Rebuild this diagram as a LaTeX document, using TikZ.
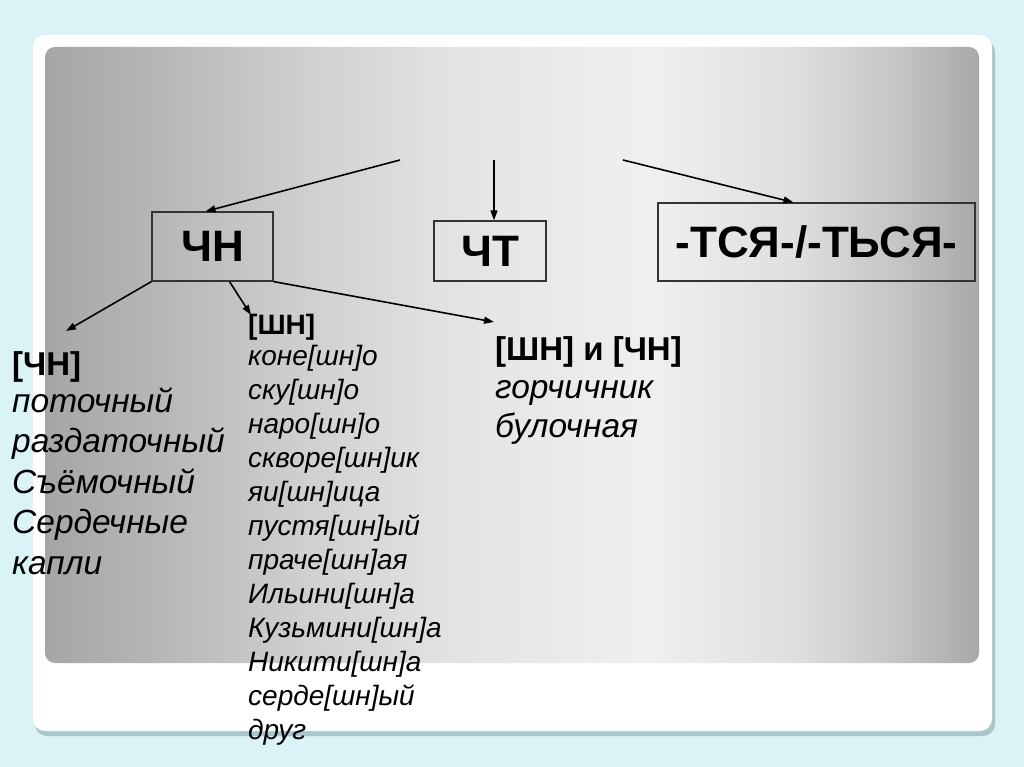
\documentclass[tikz,border=0pt]{standalone}
\usepackage{fontspec}
\setmainfont{Liberation Sans}
\usetikzlibrary{arrows.meta}
\definecolor{bgcyan}{HTML}{D9F3F7}
\definecolor{shadowc}{HTML}{A9C6CA}
\definecolor{boxline}{HTML}{333333}
\pgfdeclarehorizontalshading{slidegray}{100bp}{%
  rgb(0bp)=(.65,.65,.65);
  rgb(25bp)=(.65,.65,.65);
  rgb(30.6bp)=(.71,.71,.71);
  rgb(38.6bp)=(.81,.81,.81);
  rgb(46.7bp)=(.89,.89,.89);
  rgb(57.4bp)=(.94,.94,.94);
  rgb(65.4bp)=(.87,.87,.87);
  rgb(70.7bp)=(.77,.77,.77);
  rgb(75bp)=(.66,.66,.66);
  rgb(100bp)=(.66,.66,.66)}
\begin{document}
\begin{tikzpicture}[x=1pt,y=-1pt,
  box/.style={draw=boxline, line width=1.2pt, inner sep=0pt,
    font=\fontsize{44}{50}\selectfont\bfseries},
  arr/.style={-{Triangle[length=10pt,width=7pt]}, line width=1.6pt, black},
  hdbig/.style={anchor=base west, inner sep=0pt, font=\fontsize{33}{38}\selectfont\bfseries},
  hdsmall/.style={anchor=base west, inner sep=0pt, font=\fontsize{28}{34}\selectfont\bfseries},
  itbig/.style={anchor=base west, inner sep=0pt, font=\fontsize{33.5}{38}\selectfont\itshape},
  itsmall/.style={anchor=base west, inner sep=0pt, font=\fontsize{28}{34}\selectfont\itshape}]
\useasboundingbox (0,0) rectangle (1024,767);
% background and frame
\fill[bgcyan] (0,0) rectangle (1024,767);
\fill[shadowc, rounded corners=12pt] (35,40) rectangle (995,736);
\fill[white, rounded corners=12pt] (33,35) rectangle (992,731);
\shade[shading=slidegray, rounded corners=10pt] (45,47) rectangle (979,663);
% boxes
\node[box, minimum width=121pt, minimum height=69pt] (chn) at (212.5,246.5) {ЧН};
\node[box, minimum width=112pt, minimum height=60pt] (cht) at (490,251) {ЧТ};
\node[box, minimum width=317pt, minimum height=78pt] (tsya) at (816.5,242) {-ТСЯ-/-ТЬСЯ-};
% left column
\node[hdbig] (hchn) at (12,375) {[ЧН]};
\foreach \w [count=\i from 0] in {{поточный},{раздаточный},{Съёмочный},{Сердечные},{капли}}
  \node[itbig] (l\i) at (12,{412+40.5*\i}) {\w};
% middle column
\node[hdsmall] (hshn) at (248,334) {[ШН]};
\foreach \w [count=\i from 0] in {{коне[шн]о},{ску[шн]о},{наро[шн]о},{скворе[шн]ик},{яи[шн]ица},{пустя[шн]ый},{праче[шн]ая},{Ильини[шн]а},{Кузьмини[шн]а},{Никити[шн]а},{серде[шн]ый},{друг}}
  \node[itsmall] (m\i) at (248,{365+34*\i}) {\w};
% right column
\node[hdbig] (hboth) at (495,360) {[ШН] и [ЧН]};
\node[itbig] (r0) at (495,398) {горчичник};
\node[itbig] (r1) at (495,437) {булочная};
% connectors
\coordinate (s1) at (400,160);
\coordinate (s2) at (494,160);
\coordinate (s3) at (623,160);
\coordinate (t1) at (66,331);
\coordinate (t2) at (251,315);
\coordinate (t3) at (494,322);
\draw[arr] (s1) -- ([xshift=-7pt]chn.north);
\draw[arr] (s2) -- ([xshift=4pt]cht.north);
\draw[arr] (s3) -- ([xshift=-23pt]tsya.north);
\draw[arr] (chn.south west) -- (t1);
\draw[arr] ([xshift=17pt]chn.south) -- (t2);
\draw[arr] (chn.south east) -- (t3);
\end{tikzpicture}
\end{document}
